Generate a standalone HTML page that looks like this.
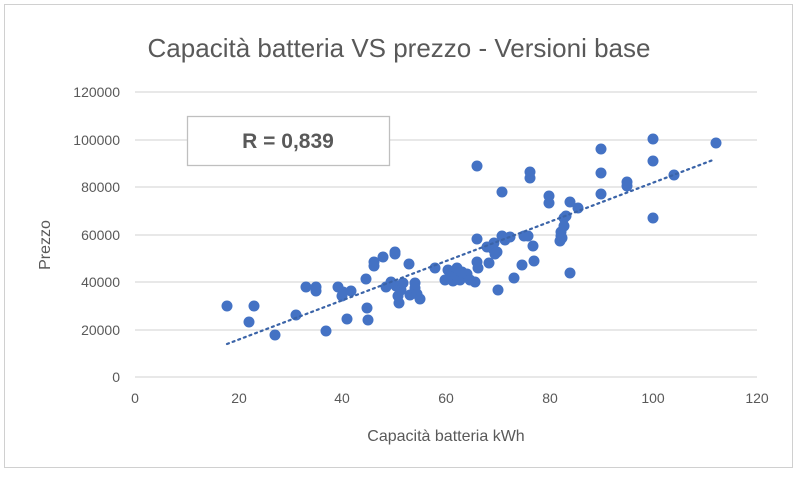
<!DOCTYPE html>
<html><head><meta charset="utf-8"><style>
body{margin:0;background:#fff;}
svg text{font-family:"Liberation Sans",sans-serif;fill:#595959;}
</style></head><body>
<svg width="798" height="479" xmlns="http://www.w3.org/2000/svg">
<rect x="0" y="0" width="798" height="479" fill="#fff"/>
<rect x="4.5" y="4.5" width="788" height="463" fill="#fff" stroke="#d0d0d0"/>
<text x="399" y="57" font-size="26" text-anchor="middle">Capacità batteria VS prezzo - Versioni base</text>
<g stroke="#d9d9d9" stroke-width="1.3">
<line x1="135" y1="92" x2="757" y2="92"/><line x1="135" y1="140" x2="757" y2="140"/>
<line x1="135" y1="187" x2="757" y2="187"/><line x1="135" y1="235" x2="757" y2="235"/>
<line x1="135" y1="282" x2="757" y2="282"/><line x1="135" y1="330" x2="757" y2="330"/>
<line x1="135" y1="377" x2="757" y2="377"/>
</g>
<g font-size="14" text-anchor="end">
<text x="120" y="97">120000</text><text x="120" y="145">100000</text><text x="120" y="192">80000</text>
<text x="120" y="240">60000</text><text x="120" y="287">40000</text><text x="120" y="335">20000</text><text x="120" y="382">0</text>
</g>
<g font-size="14" text-anchor="middle">
<text x="135" y="403">0</text><text x="239" y="403">20</text><text x="342" y="403">40</text><text x="446" y="403">60</text>
<text x="550" y="403">80</text><text x="653" y="403">100</text><text x="757" y="403">120</text>
</g>
<text x="446" y="441" font-size="16" text-anchor="middle">Capacità  batteria kWh</text>
<text transform="translate(50,245) rotate(-90)" font-size="16" text-anchor="middle">Prezzo</text>
<rect x="187.5" y="116.5" width="202" height="49" fill="#fff" stroke="#bfbfbf" stroke-width="1.3"/>
<text x="288" y="148" font-size="21" font-weight="bold" text-anchor="middle">R = 0,839</text>
<g fill="#4472c4">
<circle cx="227" cy="306" r="5.5"/><circle cx="249" cy="322" r="5.5"/><circle cx="254" cy="306" r="5.5"/><circle cx="275" cy="335" r="5.5"/><circle cx="296" cy="315" r="5.5"/><circle cx="306" cy="287" r="5.5"/><circle cx="316" cy="287" r="5.5"/><circle cx="316" cy="291" r="5.5"/><circle cx="326" cy="331" r="5.5"/><circle cx="338" cy="287" r="5.5"/><circle cx="342" cy="296" r="5.5"/><circle cx="343" cy="292" r="5.5"/><circle cx="347" cy="319" r="5.5"/><circle cx="351" cy="291" r="5.5"/><circle cx="366" cy="279" r="5.5"/><circle cx="367" cy="308" r="5.5"/><circle cx="374" cy="262" r="5.5"/><circle cx="374" cy="266" r="5.5"/><circle cx="368" cy="320" r="5.5"/><circle cx="383" cy="257" r="5.5"/><circle cx="386" cy="287" r="5.5"/><circle cx="391" cy="282" r="5.5"/><circle cx="395" cy="252" r="5.5"/><circle cx="395" cy="254" r="5.5"/><circle cx="396" cy="286" r="5.5"/><circle cx="398" cy="296" r="5.5"/><circle cx="399" cy="303" r="5.5"/><circle cx="401" cy="290" r="5.5"/><circle cx="403" cy="283" r="5.5"/><circle cx="409" cy="264" r="5.5"/><circle cx="410" cy="295" r="5.5"/><circle cx="415" cy="283" r="5.5"/><circle cx="415" cy="288" r="5.5"/><circle cx="417" cy="294" r="5.5"/><circle cx="420" cy="299" r="5.5"/><circle cx="435" cy="268" r="5.5"/><circle cx="445" cy="280" r="5.5"/><circle cx="448" cy="270" r="5.5"/><circle cx="450" cy="277" r="5.5"/><circle cx="453" cy="281" r="5.5"/><circle cx="456" cy="275" r="5.5"/><circle cx="460" cy="280" r="5.5"/><circle cx="457" cy="268" r="5.5"/><circle cx="462" cy="272" r="5.5"/><circle cx="467" cy="274" r="5.5"/><circle cx="470" cy="280" r="5.5"/><circle cx="475" cy="282" r="5.5"/><circle cx="477" cy="262" r="5.5"/><circle cx="478" cy="268" r="5.5"/><circle cx="477" cy="239" r="5.5"/><circle cx="477" cy="166" r="5.5"/><circle cx="487" cy="247" r="5.5"/><circle cx="489" cy="263" r="5.5"/><circle cx="491" cy="247" r="5.5"/><circle cx="493" cy="249" r="5.5"/><circle cx="494" cy="243" r="5.5"/><circle cx="495" cy="254" r="5.5"/><circle cx="497" cy="252" r="5.5"/><circle cx="498" cy="290" r="5.5"/><circle cx="502" cy="192" r="5.5"/><circle cx="502" cy="236" r="5.5"/><circle cx="505" cy="240" r="5.5"/><circle cx="510" cy="237" r="5.5"/><circle cx="514" cy="278" r="5.5"/><circle cx="522" cy="265" r="5.5"/><circle cx="524" cy="236" r="5.5"/><circle cx="528" cy="236" r="5.5"/><circle cx="530" cy="172" r="5.5"/><circle cx="530" cy="178" r="5.5"/><circle cx="533" cy="246" r="5.5"/><circle cx="534" cy="261" r="5.5"/><circle cx="549" cy="196" r="5.5"/><circle cx="549" cy="203" r="5.5"/><circle cx="561" cy="232" r="5.5"/><circle cx="561" cy="236" r="5.5"/><circle cx="560" cy="241" r="5.5"/><circle cx="562" cy="238" r="5.5"/><circle cx="564" cy="218" r="5.5"/><circle cx="564" cy="226" r="5.5"/><circle cx="566" cy="216" r="5.5"/><circle cx="570" cy="273" r="5.5"/><circle cx="570" cy="202" r="5.5"/><circle cx="578" cy="208" r="5.5"/><circle cx="601" cy="149" r="5.5"/><circle cx="601" cy="173" r="5.5"/><circle cx="601" cy="194" r="5.5"/><circle cx="627" cy="182" r="5.5"/><circle cx="627" cy="186" r="5.5"/><circle cx="653" cy="139" r="5.5"/><circle cx="653" cy="161" r="5.5"/><circle cx="653" cy="218" r="5.5"/><circle cx="674" cy="175" r="5.5"/><circle cx="716" cy="143" r="5.5"/>
</g>
<line x1="227" y1="344" x2="713" y2="160" stroke="#3b64a8" stroke-width="2.2" stroke-dasharray="2,4" stroke-linecap="round"/>
</svg>
</body></html>
